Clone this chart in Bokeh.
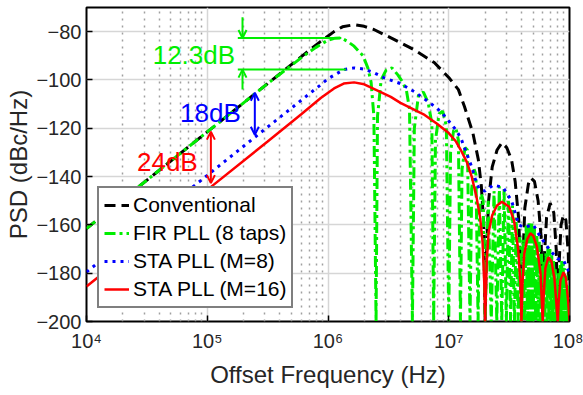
from bokeh.plotting import figure
from bokeh.models import (FixedTicker, Range1d, Legend, LegendItem,
                          Arrow, OpenHead, Label)
from bokeh.embed import file_html
from bokeh.resources import INLINE

# ---------------- data (log10 of offset frequency, PSD in dBc/Hz) -------------
conv_logf = [4.0, 5.0, 5.5, 5.8, 5.94, 6.05, 6.12, 6.216, 6.3, 6.38, 6.55, 6.71,
             6.88, 7.0, 7.08, 7.13, 7.2, 7.245, 7.27, 7.29, 7.301,
             7.31, 7.33, 7.36, 7.4, 7.44, 7.48, 7.52, 7.55, 7.58, 7.595, 7.602,
             7.61, 7.63, 7.66, 7.68, 7.71, 7.74, 7.765, 7.778,
             7.79, 7.81, 7.84, 7.87, 7.89, 7.903,
             7.91, 7.93, 7.95, 7.97, 7.99, 8.0]
conv_db = [-161.5, -121.5, -101.5, -89.5, -84, -80, -78, -77.1, -77.8, -79.1, -83.3, -87.4,
           -92.8, -99, -104, -111, -122, -133, -144, -160, -200,
           -175, -150, -136, -129, -126, -128, -133, -142, -158, -180, -200,
           -180, -153, -143, -140.6, -142, -150, -165, -200,
           -175, -157, -151, -155, -170, -200,
           -180, -160, -156, -158, -172, -200]

fir_logf = [4.0, 5.0, 5.5, 5.8, 5.9, 6.0, 6.06, 6.11, 6.16, 6.216, 6.29, 6.33, 6.357, 6.38, 6.398,
            6.41, 6.44, 6.48, 6.53, 6.58, 6.62, 6.65, 6.675, 6.699,
            6.715, 6.75, 6.79, 6.83, 6.86, 6.875,
            6.89, 6.92, 6.95, 6.98, 7.0,
            7.015, 7.04, 7.06, 7.08, 7.097,
            7.11, 7.135, 7.155, 7.176,
            7.19, 7.21, 7.225, 7.243,
            7.255, 7.27, 7.285, 7.301,
            7.327, 7.352, 7.375, 7.398, 7.419, 7.439, 7.458, 7.477, 7.495, 7.512,
            7.528, 7.544, 7.559, 7.574, 7.588, 7.602, 7.615, 7.628, 7.641, 7.653,
            7.665, 7.677, 7.688, 7.699, 7.71, 7.72, 7.73, 7.74, 7.75, 7.76,
            7.769, 7.778, 7.787, 7.796, 7.805, 7.813, 7.821, 7.829, 7.837, 7.845,
            7.853, 7.86, 7.868, 7.875, 7.883, 7.89, 7.897, 7.903, 7.91, 7.916,
            7.923, 7.929, 7.936, 7.942, 7.948, 7.954, 7.96, 7.966, 7.972, 7.978,
            7.984, 7.989, 7.995, 8.0]
fir_db = [-161.5, -121.5, -101.5, -90, -86.5, -83.5, -82.7, -82.6, -84, -86, -90, -95, -101, -115, -200,
          -115, -100, -96, -95, -98, -101, -104.5, -112, -200,
          -120, -106, -105, -109.5, -118, -200,
          -125, -114, -113, -119, -200,
          -130, -121, -120, -125, -200,
          -137, -128, -129, -200,
          -145, -137, -139, -200,
          -153, -147, -150, -200,
          -150, -200, -146, -200, -144, -200, -145, -200, -148, -200,
          -152, -200, -157, -200, -165, -200, -166, -200, -160, -200,
          -159, -200, -159, -200, -161, -200, -164, -200, -167, -200,
          -172, -200, -175, -200, -171, -200, -169, -200, -170, -200,
          -172, -200, -175, -200, -178, -200, -182, -200, -180, -200,
          -176, -200, -175, -200, -176, -200, -178, -200, -181, -200,
          -185, -200, -190, -200]

sta8_logf = [4.0, 5.0, 5.5, 5.776, 5.94, 6.0, 6.13, 6.216, 6.3, 6.38, 6.46, 6.6, 6.72,
             6.83, 6.9, 6.95, 7.0, 7.06, 7.1, 7.16, 7.19, 7.22, 7.25, 7.3, 7.37, 7.45,
             7.52, 7.58, 7.62, 7.7, 7.76, 7.83, 7.9, 7.95, 8.0]
sta8_db = [-179.5, -139.5, -119.5, -108.5, -102, -99.5, -95.7, -95, -95.5, -97, -99, -101.5, -105,
           -109, -111.6, -114, -117, -120.7, -124, -132, -136, -141, -145, -146, -143.5, -144.5,
           -150, -160, -161, -160, -165, -170, -174, -174.6, -180]

sta16_logf = [4.0, 5.0, 5.5, 5.776, 5.94, 6.05, 6.13, 6.216, 6.3, 6.415, 6.52, 6.6, 6.7,
              6.8, 6.9, 7.0, 7.06, 7.1, 7.15, 7.19, 7.23, 7.26, 7.28, 7.295, 7.301,
              7.315, 7.33, 7.36, 7.4, 7.44, 7.5, 7.54, 7.575, 7.595, 7.602,
              7.61, 7.625, 7.65, 7.675, 7.7, 7.73, 7.76, 7.778,
              7.785, 7.8, 7.825, 7.85, 7.875, 7.903,
              7.91, 7.925, 7.95, 7.97, 7.99, 8.0]
sta16_db = [-185.5, -145.5, -125.5, -114.3, -107.5, -103.5, -101.5, -101, -101.8, -104.5, -107, -109.5, -112,
            -114.5, -118, -122, -125.5, -129, -134, -140, -148.5, -157, -167, -185, -200,
            -175, -163, -156, -152, -150.4, -152.5, -158, -170, -185, -200,
            -185, -172, -166, -163.5, -164.5, -169, -180, -200,
            -190, -178, -173.4, -175, -182, -200,
            -192, -183, -179.6, -182, -192, -200]

series_names = ["Conventional", "FIR PLL (8 taps)", "STA PLL (M=8)", "STA PLL (M=16)"]

x_tick_exp = [4, 5, 6, 7, 8]
x_tick_labels = ["10\u2074", "10\u2075", "10\u2076", "10\u2077", "10\u2078"]
y_ticks = [-200, -180, -160, -140, -120, -100, -80]

# annotations: (log10 f, dB)
ann_123_line_top = ([5.253, 6.11], -82.6)
ann_123_line_bot = ([5.253, 6.15], -95.7)
ann_123_arrow_logf = 5.292
ann_123_arrow_top = (-74.0, -82.6)
ann_123_arrow_bot = (-104.0, -95.7)
ann_18_logf, ann_18_top, ann_18_bot = 5.394, -105.3, -122.7
ann_24_logf, ann_24_top, ann_24_bot = 5.03, -121.4, -142.7

FONT = "Liberation Sans"
GREEN = "#00ee00"

p = figure(width=583, height=395, x_axis_type="log",
           x_range=Range1d(1e4, 1e8), y_range=Range1d(-200, -70),
           output_backend="svg", toolbar_location=None,
           min_border_left=86, min_border_right=14, min_border_top=7, min_border_bottom=74)
p.background_fill_color = "white"
p.border_fill_color = "white"
p.outline_line_color = "black"
p.outline_line_width = 2
p.outline_line_alpha = 1

# axes
minor = [m * 10 ** e for e in range(4, 8) for m in range(2, 10)]
p.xaxis.ticker = FixedTicker(ticks=[10 ** e for e in x_tick_exp], minor_ticks=minor)
p.xaxis.major_label_overrides = {10 ** e: lab for e, lab in zip(x_tick_exp, x_tick_labels)}
p.yaxis.ticker = FixedTicker(ticks=y_ticks)
for ax in (p.xaxis[0], p.yaxis[0]):
    ax.axis_line_color = None
    ax.major_tick_in = 6
    ax.major_tick_out = 0
    ax.major_tick_line_width = 1.5
    ax.minor_tick_in = 0
    ax.minor_tick_out = 0
    ax.major_label_text_font = FONT
    ax.major_label_text_font_size = "20px"
    ax.major_label_text_color = "#262626"
    ax.axis_label_text_font = FONT
    ax.axis_label_text_font_size = "24px"
    ax.axis_label_text_font_style = "normal"
    ax.axis_label_text_color = "#262626"
p.xaxis.axis_label = "Offset Frequency (Hz)"
p.yaxis.axis_label = "PSD (dBc/Hz)"
p.xaxis.major_label_standoff = 8
p.yaxis.major_label_standoff = 5
p.xaxis.axis_label_standoff = 6
p.yaxis.axis_label_standoff = 1

# grids
p.xgrid.grid_line_color = "#d6d6d6"
p.xgrid.grid_line_width = 1.5
p.xgrid.minor_grid_line_color = "#a0a0a0"
p.xgrid.minor_grid_line_dash = "2 5"
p.xgrid.minor_grid_line_width = 1.5
p.ygrid.grid_line_color = "#d6d6d6"
p.ygrid.grid_line_width = 1.5

def to_f(logs):
    return [10 ** v for v in logs]

r_conv = p.line(to_f(conv_logf), conv_db, line_color="black", line_width=3, line_dash="11 6")
r_fir = p.line(to_f(fir_logf), fir_db, line_color=GREEN, line_width=3, line_dash="11 4 3 4")
r_s8 = p.line(to_f(sta8_logf), sta8_db, line_color="#0000ff", line_width=3, line_dash="3 5")
r_s16 = p.line(to_f(sta16_logf), sta16_db, line_color="#ff0000", line_width=2.5)

# annotations
for xs, yv in (ann_123_line_top, ann_123_line_bot):
    p.line(to_f(xs), [yv, yv], line_color=GREEN, line_width=2)
xa = 10 ** ann_123_arrow_logf
p.add_layout(Arrow(end=OpenHead(size=8, line_color=GREEN, line_width=2),
                   x_start=xa, y_start=ann_123_arrow_top[0], x_end=xa, y_end=ann_123_arrow_top[1],
                   line_color=GREEN, line_width=2))
p.add_layout(Arrow(end=OpenHead(size=8, line_color=GREEN, line_width=2),
                   x_start=xa, y_start=ann_123_arrow_bot[0], x_end=xa, y_end=ann_123_arrow_bot[1],
                   line_color=GREEN, line_width=2))
for lf, top, bot, col in ((ann_18_logf, ann_18_top, ann_18_bot, "#0000ff"),
                          (ann_24_logf, ann_24_top, ann_24_bot, "#ff0000")):
    xv = 10 ** lf
    p.add_layout(Arrow(start=OpenHead(size=8, line_color=col, line_width=2),
                       end=OpenHead(size=8, line_color=col, line_width=2),
                       x_start=xv, y_start=top, x_end=xv, y_end=bot,
                       line_color=col, line_width=2))

p.add_layout(Label(x=10 ** 4.548, y=-89.5, text="12.3dB", text_color=GREEN,
                   text_font=FONT, text_font_size="26px", text_baseline="middle"))
p.add_layout(Label(x=10 ** 5.278, y=-113.6, text="18dB", text_color="#0000ff",
                   text_font=FONT, text_font_size="26px", text_baseline="middle",
                   text_align="right"))
p.add_layout(Label(x=10 ** 4.921, y=-134.0, text="24dB", text_color="#ff0000",
                   text_font=FONT, text_font_size="26px", text_baseline="middle",
                   text_align="right"))

legend = Legend(items=[LegendItem(label=n, renderers=[r]) for n, r in
                       zip(series_names, [r_conv, r_fir, r_s8, r_s16])],
                location=(11, 13), label_text_font=FONT, label_text_font_size="21px",
                label_text_color="black", glyph_width=25, glyph_height=20,
                label_height=20, spacing=4, padding=5, margin=0, label_standoff=4,
                border_line_color="black", border_line_width=2,
                background_fill_alpha=1, background_fill_color="white")
p.add_layout(legend)

open("out.html", "w").write(file_html(p, INLINE))
